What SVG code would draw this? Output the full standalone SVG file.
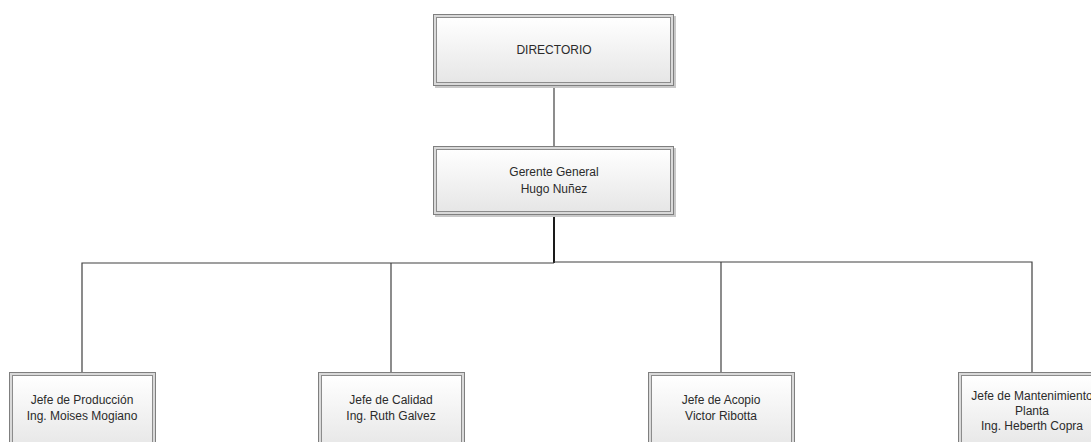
<svg xmlns="http://www.w3.org/2000/svg" width="1091" height="442" viewBox="0 0 1091 442">
<defs>
<linearGradient id="fill" x1="0" y1="0" x2="0" y2="1">
<stop offset="0" stop-color="#ffffff"/>
<stop offset="1" stop-color="#e6e6e6"/>
</linearGradient>
</defs>
<style>
.outer{fill:#d9d9d9;stroke:#7f7f7f;stroke-width:1}
.inner{fill:url(#fill);stroke:#8c8c8c;stroke-width:1}
.shadow{fill:#c8c8c8}
text{font-family:"Liberation Sans",Arial,sans-serif;font-size:12px;fill:#2b2b2b;text-anchor:middle}
.conn{stroke:#404040;stroke-width:1.2;fill:none}
.trunk{stroke:#1a1a1a;stroke-width:2;fill:none}
</style>
<rect width="1091" height="442" fill="#ffffff"/>
<g id="connectors">
<line class="conn" x1="554" y1="86" x2="554" y2="146"/>
<line class="trunk" x1="554" y1="215" x2="554" y2="263"/>
<polyline class="conn" points="82,372 82,263 554,263"/>
<polyline class="conn" points="554,262 1032,262 1032,372"/>
<line class="conn" x1="391" y1="263" x2="391" y2="372"/>
<line class="conn" x1="721" y1="262" x2="721" y2="372"/>
</g>
<g id="directorio">
<rect class="shadow" x="435" y="16" width="241" height="72"/>
<rect class="outer" x="433.5" y="14.5" width="240" height="71"/>
<rect class="inner" x="436.5" y="17.5" width="234" height="65"/>
<text x="554" y="54">DIRECTORIO</text>
</g>
<g id="gerente">
<rect class="shadow" x="435" y="148" width="241" height="69"/>
<rect class="outer" x="433.5" y="146.5" width="240" height="68"/>
<rect class="inner" x="436.5" y="149.5" width="234" height="62"/>
<text x="554" y="176">Gerente General</text>
<text x="554" y="193">Hugo Nuñez</text>
</g>
<g id="produccion">
<rect class="outer" x="9.5" y="372.5" width="146" height="80"/>
<rect class="inner" x="12.5" y="375.5" width="140" height="74"/>
<text x="82" y="404">Jefe de Producción</text>
<text x="82" y="420">Ing. Moises Mogiano</text>
</g>
<g id="calidad">
<rect class="outer" x="318.5" y="372.5" width="146" height="80"/>
<rect class="inner" x="321.5" y="375.5" width="140" height="74"/>
<text x="391" y="404">Jefe de Calidad</text>
<text x="391" y="420">Ing. Ruth Galvez</text>
</g>
<g id="acopio">
<rect class="outer" x="648.5" y="372.5" width="146" height="80"/>
<rect class="inner" x="651.5" y="375.5" width="140" height="74"/>
<text x="721" y="404">Jefe de Acopio</text>
<text x="721" y="420">Victor Ribotta</text>
</g>
<g id="mantenimiento">
<rect class="outer" x="958.5" y="372.5" width="146" height="80"/>
<rect class="inner" x="961.5" y="375.5" width="140" height="74"/>
<text x="1032" y="400">Jefe de Mantenimiento</text>
<text x="1032" y="415">Planta</text>
<text x="1032" y="430">Ing. Heberth Copra</text>
</g>
</svg>
